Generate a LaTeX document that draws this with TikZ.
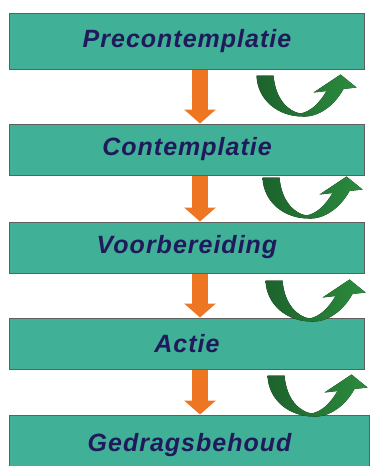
\documentclass[tikz,border=0pt]{standalone}
\usepackage{fontspec}
\newfontfamily\fasefont[LetterSpace=4]{Liberation Sans}
\usetikzlibrary{positioning, arrows.meta}
\definecolor{fasegroen}{RGB}{64,176,150}
\definecolor{faserand}{RGB}{95,95,95}
\definecolor{fasetekst}{RGB}{32,26,92}
\definecolor{pijloranje}{RGB}{238,118,34}
\definecolor{terugdonker}{RGB}{28,98,44}
\definecolor{teruglicht}{RGB}{44,140,62}
\tikzstyle{fase} = [
    rectangle,
    minimum width=355pt,
    minimum height=51pt,
    fill=fasegroen,
    draw=faserand,
    line width=1pt,
    text=fasetekst,
    font=\fasefont\bfseries\itshape\fontsize{25}{30}\selectfont
]
\tikzstyle{stap} = [
    line width=16pt,
    draw=pijloranje,
    -{Triangle[width=31pt,length=14pt]}
]
\newcommand{\terugval}[3]{%
  \fill[left color=terugdonker, right color=teruglicht,
        shift={(#1.south east)}, xshift=#2pt, yshift=#3pt, yscale=-1]
    (0,0) -- (17,0) .. controls (19,24) and (32,36) .. (44,38)
    .. controls (55,36) and (64,26) .. (70,15.5) -- (57,17) -- (84,-1)
    -- (100,12) -- (87,13.5) .. controls (78,30) and (62,42) .. (46,41)
    .. controls (22,41) and (1,25) .. (0,0) -- cycle;}

\begin{document}
\begin{tikzpicture}[x=1pt, y=1pt]
\clip (0,0) rectangle (376,-466);

\node (pre) [fase, minimum height=56pt] at (187,-41) {Precontemplatie};

\node (con) [fase, below=54pt of pre] {Contemplatie};

\node (voor) [fase, below=46pt of con] {Voorbereiding};

\node (actie) [fase, below=44pt of voor] {Actie};

\node (behoud) [fase, below=45pt of actie, minimum height=60pt,
    minimum width=360pt, xshift=2.5pt] {Gedragsbehoud};

\draw [stap] ([xshift=13pt]pre.south) -- ([xshift=13pt]con.north);
\draw [stap] ([xshift=13pt]con.south) -- ([xshift=13pt]voor.north);
\draw [stap] ([xshift=13pt]voor.south) -- ([xshift=13pt]actie.north);
\draw [stap] ([xshift=13pt]actie.south) -- ([xshift=10.5pt]behoud.north);

\terugval{pre}{-108.5}{-6}
\terugval{con}{-102.5}{-2}
\terugval{voor}{-99.5}{-7}
\terugval{actie}{-97.5}{-6}

\end{tikzpicture}
\end{document}
